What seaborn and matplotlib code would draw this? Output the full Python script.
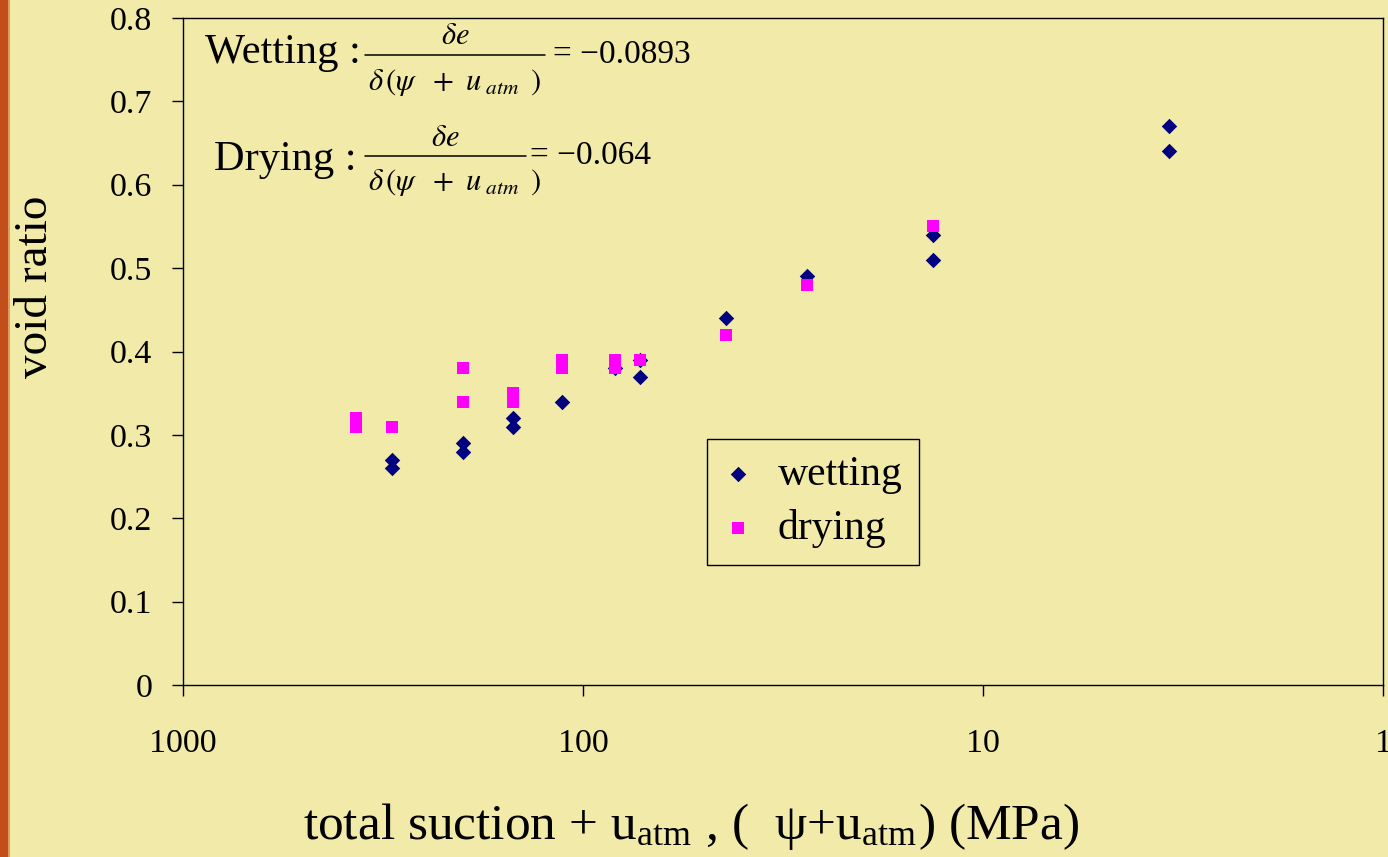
import matplotlib
matplotlib.use("Agg")
import matplotlib.pyplot as plt
import seaborn as sns
import pandas as pd
from matplotlib.lines import Line2D
from matplotlib.patches import Rectangle

# ---- data ----
wet_x = [300, 300, 200, 200, 150, 150, 113, 83, 72, 72, 44, 27.5, 13.3, 13.3, 3.43, 3.43]
wet_y = [0.27, 0.26, 0.29, 0.28, 0.32, 0.31, 0.34, 0.38, 0.39, 0.37, 0.44, 0.49, 0.54, 0.51, 0.67, 0.64]
dry_x = [369, 369, 300, 200, 200, 150, 150, 113, 113, 83, 83, 72, 44, 27.5, 13.3]
dry_y = [0.32, 0.31, 0.31, 0.38, 0.34, 0.35, 0.34, 0.39, 0.38, 0.39, 0.38, 0.39, 0.42, 0.48, 0.55]
series_names = ["wetting", "drying"]
x_ticks = [1000, 100, 10, 1]
x_ticklabels = ["1000", "100", "10", "1"]
y_ticks = [0, 0.1, 0.2, 0.3, 0.4, 0.5, 0.6, 0.7, 0.8]
y_ticklabels = ["0", "0.1", "0.2", "0.3", "0.4", "0.5", "0.6", "0.7", "0.8"]
wet_label = "Wetting :"
wet_value = "= \u22120.0893"
dry_label = "Drying :"
dry_value = "= \u22120.064"

df_wet = pd.DataFrame({"x": wet_x, "y": wet_y, "series": series_names[0]})
df_dry = pd.DataFrame({"x": dry_x, "y": dry_y, "series": series_names[1]})

BG = "#F2EAA8"
NAVY = "#000080"
MAGENTA = "#FF00FF"

sns.set_style("ticks")
plt.rcParams["font.family"] = ["Liberation Serif", "DejaVu Serif"]
plt.rcParams["mathtext.fontset"] = "stix"
plt.rcParams["text.color"] = "black"
plt.rcParams["axes.labelcolor"] = "black"
plt.rcParams["xtick.color"] = "black"
plt.rcParams["ytick.color"] = "black"

W, H = 1388, 857
fig = plt.figure(figsize=(W / 100, H / 100), dpi=100, facecolor=BG)
ax = fig.add_axes([183 / W, (H - 685) / H, 1200 / W, 667 / H])
ax.set_facecolor(BG)


def px(x, y):
    return (x / W, 1 - y / H)


# left orange strip
fig.patches.append(Rectangle((0, 0), 8 / W, 1, transform=fig.transFigure,
                             facecolor="#C24F1B", edgecolor="none", zorder=0))
fig.patches.append(Rectangle((8 / W, 0), 2 / W, 1, transform=fig.transFigure,
                             facecolor="#E39A5A", edgecolor="none", zorder=0))

sns.scatterplot(data=df_wet, x="x", y="y", ax=ax, color=NAVY, marker="D",
                s=62, linewidth=0, label=series_names[0], zorder=3)
sns.scatterplot(data=df_dry, x="x", y="y", ax=ax, color=MAGENTA, marker="s",
                s=75, linewidth=0, label=series_names[1], zorder=4)

ax.set_xscale("log")
ax.set_xlim(1000, 1)
ax.set_ylim(0, 0.8)
ax.set_xticks(x_ticks)
ax.set_xticklabels(x_ticklabels)
ax.minorticks_off()
ax.set_yticks(y_ticks)
ax.set_yticklabels(y_ticklabels)

for s in ax.spines.values():
    s.set_visible(True)
    s.set_color("black")
    s.set_linewidth(1.0)

ax.tick_params(axis="both", which="major", direction="out", length=8, width=1.0,
               color="black", labelsize=24.5, labelcolor="black")
ax.tick_params(axis="x", pad=23)
ax.tick_params(axis="y", pad=14)

ax.set_xlabel("")
ax.set_ylabel("")
fig.text(*px(691, 827), "total suction + u$_{\\mathregular{atm}}$ , (  \u03c8+u$_{\\mathregular{atm}}$) (MPa)",
         fontsize=37, ha="center", va="center")
fig.text(*px(36, 287), "void ratio", fontsize=34, rotation=90, ha="center", va="center")

# legend
leg = ax.legend(loc="upper left", bbox_to_anchor=((707 - 183) / 1200, (685 - 439) / 667),
                borderaxespad=0, fontsize=30, frameon=True, fancybox=False,
                facecolor=BG, edgecolor="black", framealpha=1,
                handlelength=0.7, handletextpad=0.6, borderpad=0.4, labelspacing=0.36)
leg.get_frame().set_linewidth(1.0)

# slope annotations
def slope(label, lx, ly, bar_x0, bar_x1, bar_y, value, vx):
    fig.text(*px(lx, ly), label, fontsize=30.5, ha="left", va="baseline")
    cx = (bar_x0 + bar_x1) / 2
    fig.text(*px(cx, bar_y - 18), r"$\delta e$", fontsize=22, ha="center", va="center")
    fig.text(*px(bar_x0 + 3, bar_y + 27),
             r"$\delta\,(\psi\ \ +\ u_{\ atm}\ \,)$", fontsize=22, ha="left", va="center")
    fig.lines.append(Line2D([bar_x0 / W, bar_x1 / W], [1 - bar_y / H, 1 - bar_y / H],
                            transform=fig.transFigure, color="black", linewidth=1.1))
    fig.text(*px(vx, bar_y), value, fontsize=24, ha="left", va="center")


slope(wet_label, 205, 63, 365, 545, 55, wet_value, 553)
slope(dry_label, 214, 170, 365, 526, 156, dry_value, 530)

fig.savefig("out.png", dpi=100, facecolor=BG)
